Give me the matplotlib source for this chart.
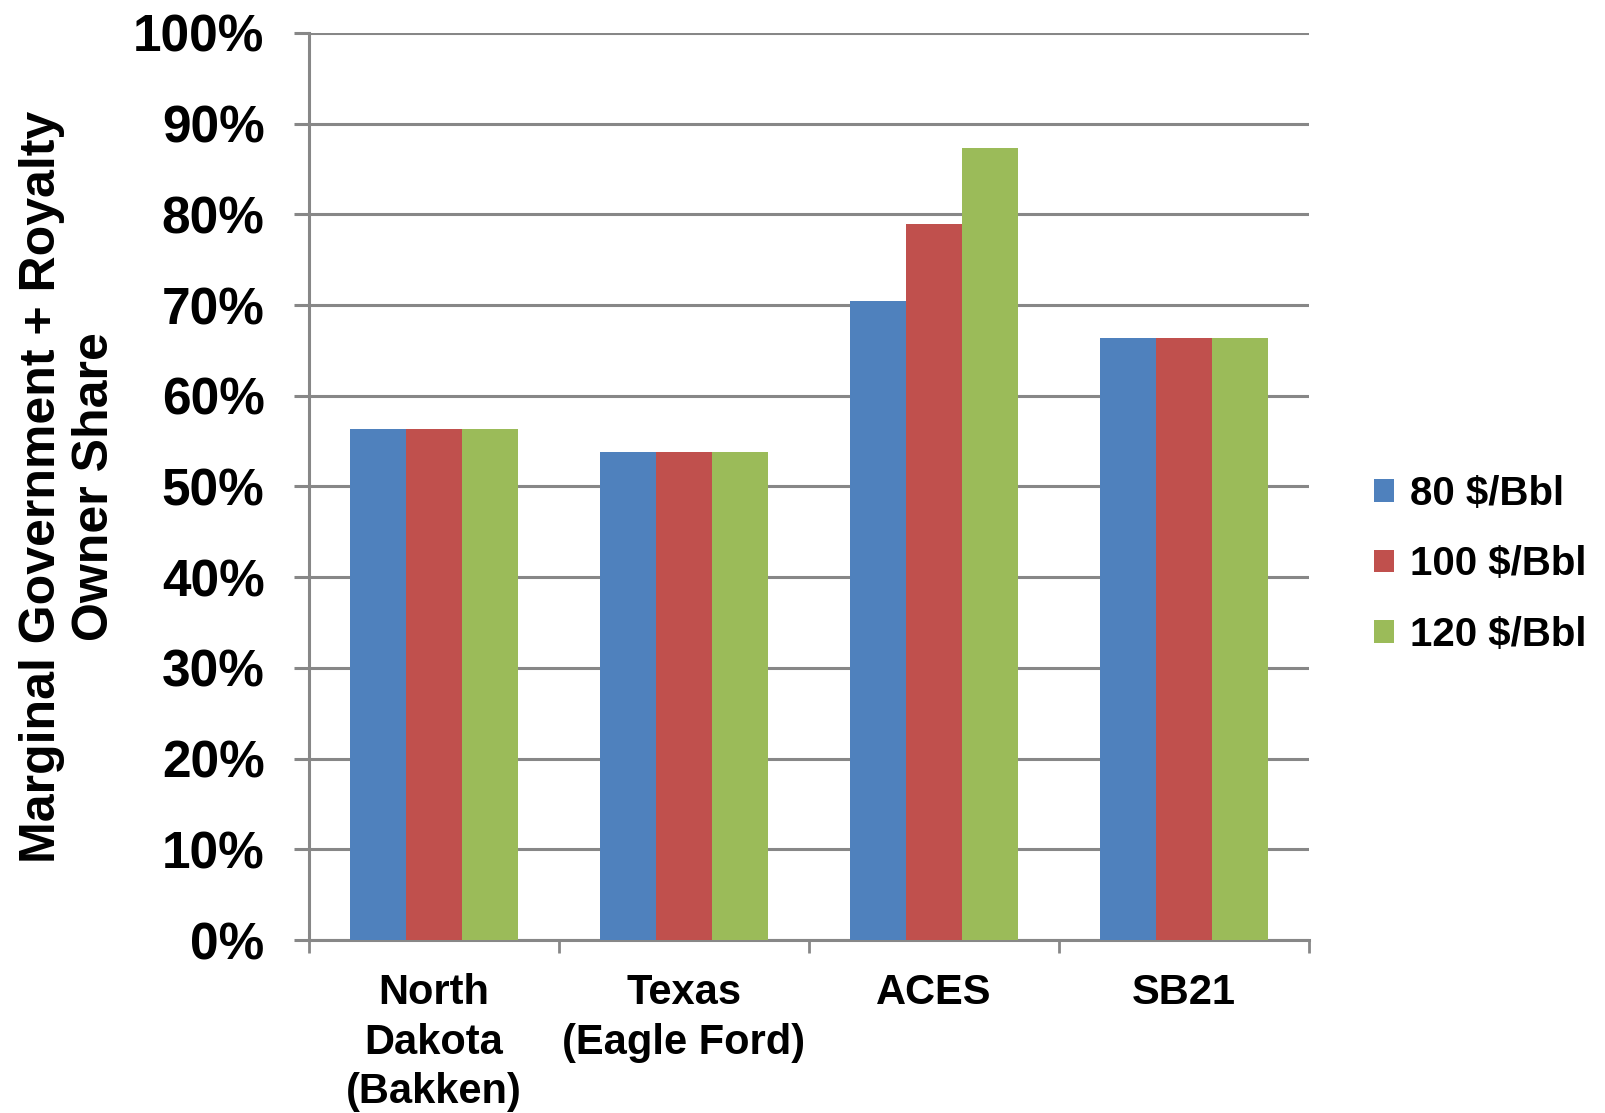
import numpy as np
import matplotlib
matplotlib.use("Agg")
import matplotlib.pyplot as plt
from matplotlib.ticker import FixedLocator, PercentFormatter

plt.rcParams['font.family'] = ['Liberation Sans', 'DejaVu Sans']
plt.rcParams['font.weight'] = 'bold'

regimes = ["North\nDakota\n(Bakken)", "Texas\n(Eagle Ford)", "ACES", "SB21"]
prices = ["80 $/Bbl", "100 $/Bbl", "120 $/Bbl"]
share_80 = [56.3, 53.8, 70.5, 66.4]
share_100 = [56.3, 53.8, 78.9, 66.4]
share_120 = [56.3, 53.8, 87.3, 66.4]
colors = ["#4F81BD", "#C0504D", "#9BBB59"]
grid_color = "#878787"

fig = plt.figure(figsize=(16.06, 11.13), dpi=100)
ax = fig.add_axes([0.1924, 0.1554, 0.815 - 0.1924, 0.9704 - 0.1554])

x = np.arange(len(regimes))
w = 0.223
for i, (vals, lab) in enumerate(zip([share_80, share_100, share_120], prices)):
    ax.bar(x + (i - 1) * w, vals, width=w, color=colors[i], label=lab, zorder=3)

ax.set_xlim(-0.5, len(regimes) - 0.5)
ax.set_ylim(0, 100)
ax.set_yticks(np.arange(0, 101, 10))
ax.yaxis.set_major_formatter(PercentFormatter(decimals=0))
ax.yaxis.grid(True, color=grid_color, linewidth=2.2, zorder=0)

ax.set_xticks(x)
ax.set_xticklabels(regimes, fontsize=30, fontweight='bold', linespacing=1.3)
ax.xaxis.set_minor_locator(FixedLocator(np.arange(-0.5, len(regimes), 1.0)))
ax.tick_params(axis='x', which='major', length=0, pad=24)
ax.tick_params(axis='x', which='minor', length=9, width=2, color=grid_color)
ax.tick_params(axis='y', length=11, width=2.2, color=grid_color, labelsize=37, pad=21)
for t in ax.get_yticklabels():
    t.set_fontweight('bold')

for side in ['top', 'right']:
    ax.spines[side].set_visible(False)
for side in ['left', 'bottom']:
    ax.spines[side].set_color(grid_color)
    ax.spines[side].set_linewidth(2.2)

ax.set_ylabel("Marginal Government + Royalty\nOwner Share", fontsize=36,
              fontweight='bold', linespacing=1.2, labelpad=11)

fig.legend(loc='center left', bbox_to_anchor=(0.833, 0.493), frameon=False,
           handlelength=0.5, handleheight=0.5, handletextpad=0.4,
           labelspacing=0.8, prop={'weight': 'bold', 'size': 29})

fig.savefig("out.png", dpi=100)
